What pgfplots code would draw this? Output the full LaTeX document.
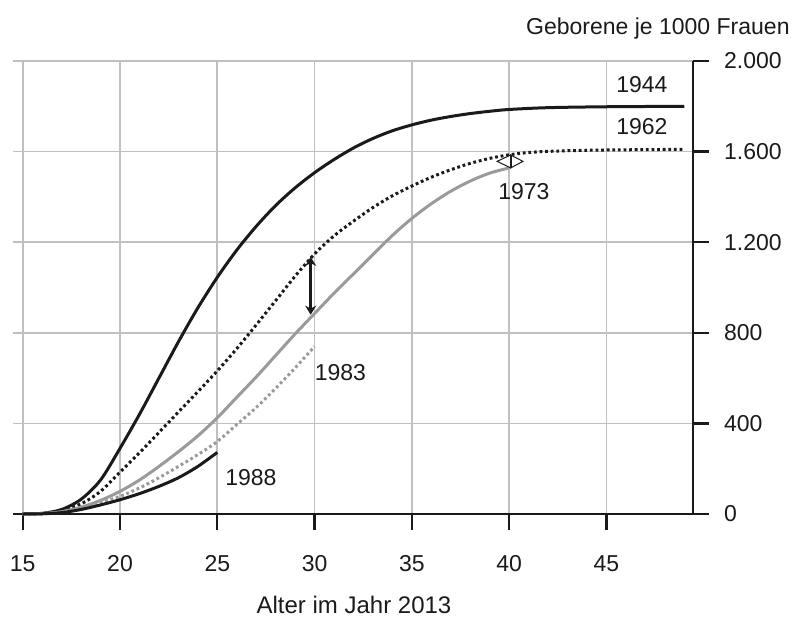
\documentclass[border=0pt]{standalone}
\usepackage{fontspec}
\setmainfont{Liberation Sans}
\usepackage{pgfplots}
\pgfplotsset{compat=1.18}
\usetikzlibrary{arrows.meta}
\definecolor{curvegray}{HTML}{9A9A9A}
\definecolor{gridgray}{HTML}{C0C0C0}
\definecolor{ink}{HTML}{1A1A1A}
\newcommand{\lblfont}{\fontsize{11.5}{13}\selectfont}
\begin{document}
\begin{tikzpicture}[x=1pt,y=1pt]
\useasboundingbox (0,0) rectangle (396.5,308.5);
\begin{axis}[
 at={(6.5pt,51.5pt)}, anchor=south west,
 scale only axis, width=340pt, height=226.5pt,
 xmin=14.5, xmax=49.45, ymin=0, ymax=2000,
 axis x line*=bottom, axis y line*=right,
 axis line style={line width=1.2pt, ink},
 xtick={15,20,...,45}, ytick={0,400,...,2000},
 tick align=outside, major tick length=8pt,
 tick style={line width=1.2pt, ink},
 grid=major, major grid style={line width=0.8pt, gridgray},
 ticklabel style={font=\lblfont, text=ink},
 /pgf/number format/assume math mode=true,
 yticklabel style={/pgf/number format/1000 sep={.}, anchor=west, xshift=4pt},
 xticklabel style={anchor=base, yshift=-20.5pt},
 clip=false,
]
% 1944
\addplot[ink, line width=1.5pt, smooth] coordinates {
(15,0) (16,3) (17,20) (18,65) (19,150) (20,290) (21,440) (22,600) (23,760) (24,910) (25,1045) (26,1165) (27,1270) (28,1362) (29,1440) (30,1507) (31,1565) (32,1616) (33,1658) (34,1692) (35,1718) (36,1739) (37,1755) (38,1768) (39,1778) (40,1786) (42,1794) (45,1798) (49,1800)};
% 1962
\addplot[ink, line width=1.5pt, smooth, dash pattern=on 1.4pt off 1.4pt] coordinates {
(15,0) (16,2) (17,15) (18,45) (19,100) (20,185) (21,270) (22,360) (23,450) (24,540) (25,632) (26,730) (27,835) (28,942) (29,1050) (30,1148) (31,1228) (32,1293) (33,1353) (34,1405) (35,1448) (36,1487) (37,1520) (38,1548) (39,1570) (40,1586) (41,1596) (42,1601) (44,1606) (46,1608) (49,1610)};
% 1973
\addplot[curvegray, line width=1.5pt, smooth] coordinates {
(15,0) (16,2) (17,10) (18,30) (19,60) (20,100) (21,150) (22,210) (23,275) (24,345) (25,425) (26,515) (27,605) (28,700) (29,795) (30,885) (31,975) (32,1060) (33,1145) (34,1230) (35,1305) (36,1370) (37,1425) (38,1470) (39,1505) (40,1528)};
% 1983
\addplot[curvegray, line width=1.5pt, smooth, dash pattern=on 1.4pt off 1.4pt] coordinates {
(15,0) (16,1) (17,8) (18,25) (19,50) (20,78) (21,115) (22,160) (23,210) (24,262) (25,320) (26,395) (27,470) (28,555) (29,645) (30,740)};
% 1988
\addplot[ink, line width=1.5pt, smooth] coordinates {
(15,0) (16,1) (17,6) (18,20) (19,40) (20,63) (21,90) (22,122) (23,160) (24,210) (25,272)};
% labels
\node[font=\lblfont, text=ink] at (axis cs:46.82,1896) {1944};
\node[font=\lblfont, text=ink] at (axis cs:46.82,1711) {1962};
\node[font=\lblfont, text=ink] at (axis cs:40.76,1424) {1973};
\node[font=\lblfont, text=ink] at (axis cs:31.33,625) {1983};
\node[font=\lblfont, text=ink] at (axis cs:26.73,159) {1988};
% arrows
\draw[ink, line width=1.5pt, {Stealth[length=4.5pt,width=5.5pt]}-{Stealth[length=4.5pt,width=5.5pt]}] (axis cs:29.8,1135) -- (axis cs:29.8,880);
\draw[ink, line width=0.5pt, fill=white] (axis cs:40.08,1585) -- (axis cs:39.38,1557) -- (axis cs:40.08,1528) -- cycle;
\draw[ink, line width=0.5pt, fill=white] (axis cs:40.08,1585) -- (axis cs:40.71,1557) -- (axis cs:40.08,1528) -- cycle;
\draw[ink, line width=1pt] (axis cs:40.08,1585) -- (axis cs:40.08,1528);
\end{axis}
\node[font=\lblfont, text=ink, anchor=base east, inner sep=0pt] at (395,291) {Geborene je 1000 Frauen};
\node[font=\fontsize{12}{14}\selectfont, text=ink, inner sep=0pt] at (177,6.2) {Alter im Jahr 2013};
\end{tikzpicture}
\end{document}
